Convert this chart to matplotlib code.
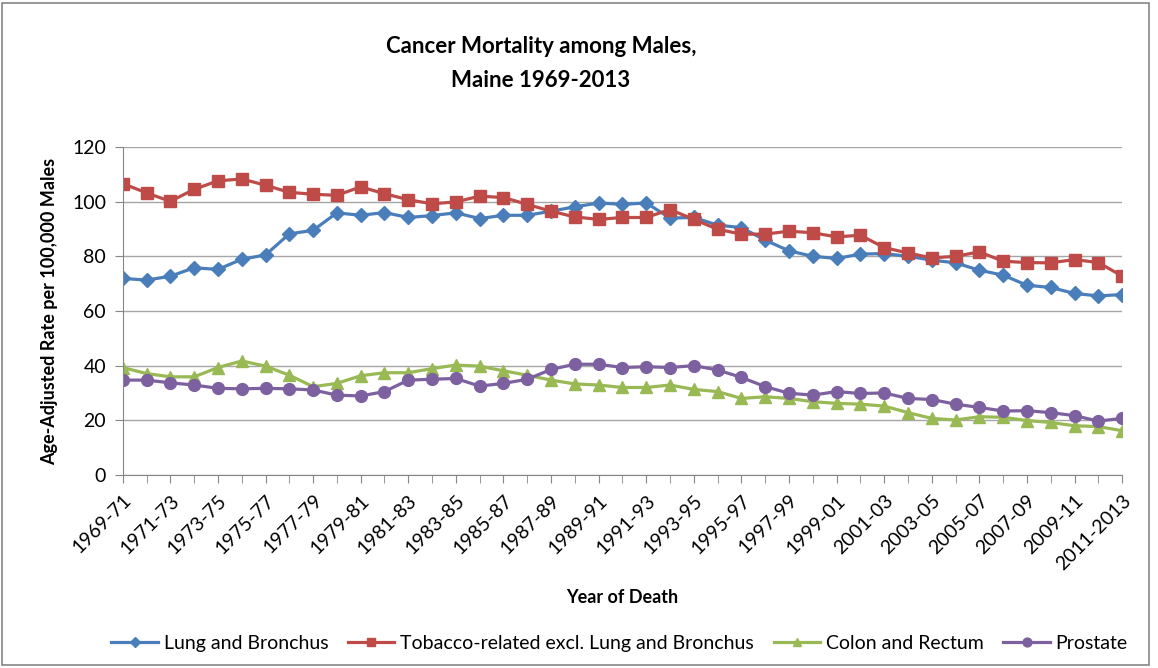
import matplotlib
matplotlib.use("Agg")
import matplotlib.pyplot as plt
from matplotlib.patches import Rectangle

plt.rcParams['font.family'] = ['Lato', 'DejaVu Sans']

# categories: 3-year periods
years = [f"{y}-{(y + 2) % 100:02d}" for y in range(1969, 2011)] + ["2011-2013"]

lung = [71.9, 71.3, 72.7, 75.8, 75.2, 78.9, 80.5, 88.2, 89.5, 95.9, 95.0, 96.0, 94.2, 94.9,
        95.9, 93.8, 95.0, 95.0, 96.5, 98.1, 99.5, 99.0, 99.5, 94.0, 94.2, 91.4, 90.5, 85.9, 82.0,
        80.0, 79.2, 80.8, 81.0, 80.0, 78.6, 77.6, 74.9, 73.1, 69.4, 68.6, 66.4, 65.5, 66.0]
tobacco = [106.6, 103.2, 100.1, 104.5, 107.6, 108.3, 106.0, 103.4, 102.7, 102.3, 105.4, 102.9, 100.7, 99.2,
           99.9, 102.0, 101.5, 99.0, 96.5, 94.4, 93.5, 94.2, 94.2, 97.1, 93.5, 89.9, 88.1, 88.1, 89.2,
           88.6, 87.1, 87.7, 83.2, 81.2, 79.4, 80.0, 81.6, 78.2, 77.7, 77.6, 78.8, 77.7, 72.8]
colon = [39.3, 37.1, 35.9, 35.9, 39.3, 41.7, 39.8, 36.5, 32.3, 33.5, 36.3, 37.4, 37.4, 38.9,
         40.2, 39.8, 38.1, 36.5, 34.7, 33.3, 32.9, 32.0, 32.0, 32.9, 31.3, 30.5, 28.0, 28.6, 28.0,
         26.8, 26.2, 25.9, 25.2, 22.8, 20.7, 20.1, 21.3, 21.1, 19.9, 19.2, 18.0, 17.7, 16.2]
prostate = [34.7, 34.7, 33.7, 32.9, 31.7, 31.5, 31.7, 31.5, 31.1, 29.2, 28.9, 30.5, 34.7, 35.0,
            35.3, 32.5, 33.5, 35.0, 38.6, 40.5, 40.5, 39.3, 39.6, 39.3, 40.0, 38.4, 35.7, 32.3, 29.9,
            29.2, 30.5, 29.8, 30.0, 28.0, 27.6, 25.9, 24.7, 23.4, 23.5, 22.8, 21.7, 19.7, 20.7]

series = [
    ("Lung and Bronchus", lung, "#4A7EBB", "D", 7),
    ("Tobacco-related excl. Lung and Bronchus", tobacco, "#BE4B48", "s", 8.5),
    ("Colon and Rectum", colon, "#98B954", "^", 8.5),
    ("Prostate", prostate, "#7D60A0", "o", 8.5),
]

fig = plt.figure(figsize=(11.58, 6.68), dpi=100)
ax = fig.add_axes([0.106, 0.289, 0.863, 0.491])

x = list(range(len(years)))
for name, vals, col, mk, ms in series:
    ax.plot(x, vals, color=col, lw=2.3, marker=mk, ms=ms, mfc=col, mec=col, label=name)

ax.set_xlim(0, len(years) - 1)
ax.set_ylim(0, 120)
ax.set_yticks(range(0, 121, 20))
ax.grid(axis='y', color='#a6a6a6', lw=1)
ax.set_axisbelow(True)

ax.set_xticks(x, minor=True)
ax.set_xticks(x[::2])
ax.set_xticklabels(years[::2], rotation=45, ha='right', rotation_mode='anchor', fontsize=14)
ax.tick_params(axis='x', which='both', length=6, color='#868686', pad=6)
ax.tick_params(axis='y', length=6, color='#868686', labelsize=14, pad=6)

for side in ['top', 'right']:
    ax.spines[side].set_visible(False)
for side in ['left', 'bottom']:
    ax.spines[side].set_color('#868686')

ax.set_xlabel("Year of Death", fontsize=13, fontweight='bold', labelpad=12)
ax.set_ylabel("Age-Adjusted Rate per 100,000 Males", fontsize=13, fontweight='bold', labelpad=10)

fig.text(0.467, 0.905, "Cancer Mortality among Males,\nMaine 1969-2013", ha='center', va='center',
         fontsize=16, fontweight='bold', linespacing=1.75)

leg = fig.legend(loc='center', bbox_to_anchor=(0.535, 0.037), ncol=4, frameon=False, fontsize=14,
                 handlelength=2.4, handletextpad=0.3, columnspacing=1.0, borderaxespad=0,
                 markerscale=0.75)

fig.patches.append(Rectangle((0.002, 0.004), 0.99, 0.992, transform=fig.transFigure,
                             fill=False, edgecolor='#868686', lw=1.2))

fig.savefig("out.png", dpi=100)
